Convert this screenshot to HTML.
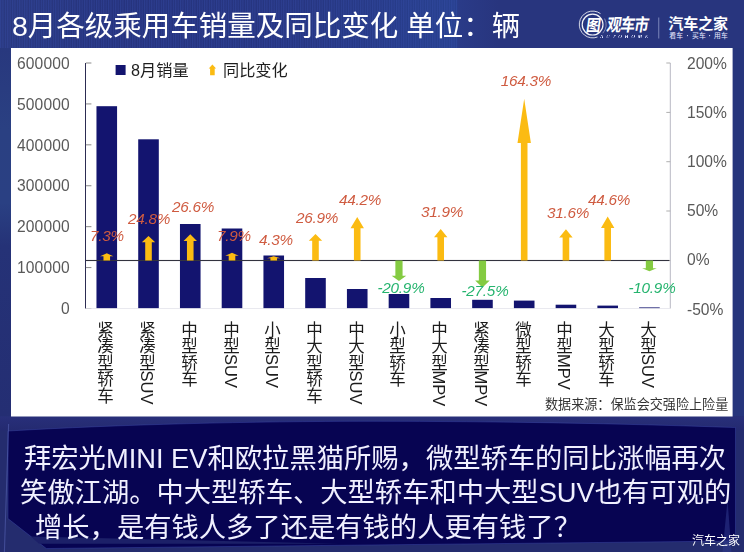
<!DOCTYPE html>
<html lang="zh-CN">
<head>
<meta charset="utf-8">
<title>8月各级乘用车销量及同比变化</title>
<style>
html,body{margin:0;padding:0;}
body{width:744px;height:552px;overflow:hidden;background:#26357c;font-family:"Liberation Sans","Noto Sans CJK SC",sans-serif;}
#page{position:relative;width:744px;height:552px;overflow:hidden;}
#page svg{position:absolute;left:0;top:0;}
.t{position:absolute;white-space:nowrap;line-height:1;font-family:"Liberation Sans","Noto Sans CJK SC",sans-serif;will-change:transform;}
</style>
</head>
<body>
<div id="page">
<svg width="744" height="552" viewBox="0 0 744 552">
<defs>
<linearGradient id="gTop" x1="0" x2="1" y1="0" y2="0"><stop offset="0" stop-color="#29387f"/><stop offset="0.15" stop-color="#25327c"/><stop offset="0.42" stop-color="#263580"/><stop offset="0.612" stop-color="#27408e"/><stop offset="0.617" stop-color="#2a3b88"/><stop offset="0.67" stop-color="#28357e"/><stop offset="1" stop-color="#28357e"/></linearGradient>
<linearGradient id="gLeft" x1="0" x2="0" y1="0" y2="1"><stop offset="0" stop-color="#28387e"/><stop offset="0.22" stop-color="#2a4082"/><stop offset="0.42" stop-color="#2a4083"/><stop offset="0.54" stop-color="#253277"/><stop offset="1" stop-color="#242e73"/></linearGradient>
<linearGradient id="gBand" x1="0" x2="0" y1="0" y2="1"><stop offset="0" stop-color="#282f7a"/><stop offset="1" stop-color="#242a70"/></linearGradient>
<pattern id="pin" width="2.4" height="8" patternUnits="userSpaceOnUse"><rect x="0" y="0" width="1.1" height="8" fill="#3a52b0" opacity="0.38"/></pattern>
</defs>
<rect x="0" y="0" width="744" height="552" fill="#26357c"/>
<rect x="0" y="0" width="744" height="48" fill="url(#gTop)"/>
<rect x="0" y="0" width="457" height="48" fill="url(#pin)"/>
<rect x="0" y="48" width="11" height="368" fill="url(#gLeft)"/>
<rect x="0" y="416.5" width="744" height="135.5" fill="#242c6e"/>
<rect x="0" y="416.5" width="744" height="14" fill="url(#gBand)"/>
<path d="M8,431 C120,424.5 250,421.3 372,421.3 C500,421.3 620,423.5 734.5,427.5 L735.5,427.5 L735.5,541 L46.3,548.5 L8,518.6 Z" fill="#070452" stroke="#3b47a6" stroke-opacity="0.45" stroke-width="1"/>
<polygon points="30.5,536.5 340,543.8 39,543.8" fill="#1c2068"/>
<line x1="8.6" y1="424" x2="4.4" y2="552" stroke="#5a66b8" stroke-opacity="0.55" stroke-width="1.1"/>
<polygon points="727.5,500 722.5,552 731.5,552" fill="#2f3a8c" opacity="0.55"/>
<rect x="11" y="48" width="721.6" height="368.5" fill="#fff"/>
<rect x="96.47" y="106.2" width="20.6" height="202.3" fill="#13146f"/>
<rect x="138.21" y="139.3" width="20.6" height="169.2" fill="#13146f"/>
<rect x="179.96" y="224" width="20.6" height="84.5" fill="#13146f"/>
<rect x="221.7" y="228.5" width="20.6" height="80" fill="#13146f"/>
<rect x="263.44" y="255.5" width="20.6" height="53" fill="#13146f"/>
<rect x="305.19" y="278" width="20.6" height="30.5" fill="#13146f"/>
<rect x="346.93" y="289" width="20.6" height="19.5" fill="#13146f"/>
<rect x="388.67" y="294" width="20.6" height="14.5" fill="#13146f"/>
<rect x="430.41" y="298" width="20.6" height="10.5" fill="#13146f"/>
<rect x="472.16" y="299.8" width="20.6" height="8.7" fill="#13146f"/>
<rect x="513.9" y="300.6" width="20.6" height="7.9" fill="#13146f"/>
<rect x="555.64" y="304.7" width="20.6" height="3.8" fill="#13146f"/>
<rect x="597.39" y="305.6" width="20.6" height="2.9" fill="#13146f"/>
<rect x="639.13" y="307.4" width="20.6" height="1.1" fill="#13146f"/>
<rect x="85" y="63.0" width="1" height="245.5" fill="#2c2c52"/>
<rect x="85.9" y="62.5" width="5.5" height="1" fill="#8a8a8a"/>
<rect x="85.9" y="103.42" width="5.5" height="1" fill="#8a8a8a"/>
<rect x="85.9" y="144.33" width="5.5" height="1" fill="#8a8a8a"/>
<rect x="85.9" y="185.25" width="5.5" height="1" fill="#8a8a8a"/>
<rect x="85.9" y="226.17" width="5.5" height="1" fill="#8a8a8a"/>
<rect x="85.9" y="267.08" width="5.5" height="1" fill="#8a8a8a"/>
<rect x="85.9" y="308" width="5.5" height="1" fill="#8a8a8a"/>
<rect x="669.8" y="63.0" width="1" height="245.5" fill="#b9b9c4"/>
<rect x="666.3" y="62.5" width="4" height="1" fill="#b0b0b0"/>
<rect x="666.3" y="111.9" width="4" height="1" fill="#b0b0b0"/>
<rect x="666.3" y="161.2" width="4" height="1" fill="#b0b0b0"/>
<rect x="666.3" y="210.5" width="4" height="1" fill="#b0b0b0"/>
<rect x="666.3" y="260" width="4" height="1" fill="#b0b0b0"/>
<rect x="85.9" y="308.2" width="584.4" height="0.8" fill="#e4e4ec"/>
<rect x="85.9" y="259.95" width="583.4" height="1.1" fill="#33333f"/>
<polygon points="103.47,260.5 103.47,256.31 100.07,256.31 106.77,253.31 113.47,256.31 110.07,256.31 110.07,260.5" fill="#fbbb12"/>
<polygon points="145.21,260.5 145.21,242.37 141.81,242.37 148.51,236.07 155.21,242.37 151.81,242.37 151.81,260.5" fill="#fbbb12"/>
<polygon points="186.96,260.5 186.96,241.06 183.56,241.06 190.26,234.3 196.96,241.06 193.56,241.06 193.56,260.5" fill="#fbbb12"/>
<polygon points="228.7,260.5 228.7,255.72 225.3,255.72 232,252.72 238.7,255.72 235.3,255.72 235.3,260.5" fill="#fbbb12"/>
<polygon points="270.44,260.5 270.44,258.17 267.04,258.17 273.74,256.26 280.44,258.17 277.04,258.17 277.04,260.5" fill="#fbbb12"/>
<polygon points="312.19,260.5 312.19,240.84 308.79,240.84 315.49,234 322.19,240.84 318.79,240.84 318.79,260.5" fill="#fbbb12"/>
<polygon points="353.93,260.5 353.93,228.29 350.53,228.29 357.23,216.96 363.93,228.29 360.53,228.29 360.53,260.5" fill="#fbbb12"/>
<polygon points="395.37,260.5 395.37,275.79 391.67,275.79 398.97,281.09 406.27,275.79 402.57,275.79 402.57,260.5" fill="#84cb42"/>
<polygon points="437.41,260.5 437.41,237.21 434.01,237.21 440.71,229.08 447.41,237.21 444.01,237.21 444.01,260.5" fill="#fbbb12"/>
<polygon points="478.86,260.5 478.86,280.59 475.16,280.59 482.46,287.59 489.76,280.59 486.06,280.59 486.06,260.5" fill="#84cb42"/>
<polygon points="520.9,260.5 520.9,143.08 517.5,143.08 524.2,98.66 530.9,143.08 527.5,143.08 527.5,260.5" fill="#fbbb12"/>
<polygon points="562.64,260.5 562.64,237.43 559.24,237.43 565.94,229.37 572.64,237.43 569.24,237.43 569.24,260.5" fill="#fbbb12"/>
<polygon points="604.39,260.5 604.39,228 600.99,228 607.69,216.57 614.39,228 610.99,228 610.99,260.5" fill="#fbbb12"/>
<polygon points="645.83,260.5 645.83,268.24 642.13,268.24 649.43,271.24 656.73,268.24 653.03,268.24 653.03,260.5" fill="#84cb42"/>
<rect x="115.6" y="65" width="10" height="10" fill="#13146f"/>
<polygon points="210.1,75.2 210.1,68.6 208.7,68.6 212.4,64.6 216.1,68.6 214.7,68.6 214.7,75.2" fill="#fbbb12"/>
<g id="logo" font-family="&quot;Liberation Sans&quot;,&quot;Noto Sans CJK SC&quot;,sans-serif">
<g transform="translate(606.4 31.3) skewX(-9) scale(1 1.2)"><text x="-0.42" y="0" font-size="14.6" font-weight="bold" letter-spacing="-0.855" fill="#fff">观车市</text></g>
<g transform="translate(585.6 30.6) skewX(-8) scale(1 1.1)"><text x="0" y="0" font-size="14.6" font-weight="bold" fill="#fff">图</text></g>
<circle cx="592.6" cy="24.6" r="10.4" fill="none" stroke="#fff" stroke-width="1.2" opacity="0.95"/>
<path d="M 600.5 13.6 A 13.4 13.4 0 1 0 597.5 37.0" fill="none" stroke="#fff" stroke-width="1.0" opacity="0.8"/>
<path d="M 604.6 18.6 A 13.4 13.4 0 0 1 602.8 33.2" fill="none" stroke="#fff" stroke-width="0.8" opacity="0.5"/>
<rect x="658.4" y="17.5" width="0.8" height="21" fill="#8f98c8"/>
<text x="668.35" y="29.3" font-size="15" font-weight="bold" letter-spacing="-0.1" fill="#fff">汽车之家</text>
<text x="669.3" y="38" font-size="6.8" letter-spacing="0.2" fill="#e8eaff">看车</text>
<text x="692.1" y="38" font-size="6.8" letter-spacing="0.2" fill="#e8eaff">买车</text>
<text x="714.1" y="38" font-size="6.8" letter-spacing="0.2" fill="#e8eaff">用车</text>
<circle cx="687.5" cy="35.6" r="0.6" fill="#e8eaff"/><circle cx="709.6" cy="35.6" r="0.6" fill="#e8eaff"/>
</g>
</svg>
<div class="t" style="left:11.5px;top:8px;font-size:28.5px;line-height:36px;color:#fff;">8月各级乘用车销量及同比变化 单位：辆</div>
<div class="t" style="left:131px;top:61px;font-size:16.2px;line-height:19px;color:#1e1e1e;">8月销量</div>
<div class="t" style="left:223.2px;top:61px;font-size:16.2px;line-height:19px;color:#1e1e1e;">同比变化</div>
<div class="t" style="left:96.27px;top:321.3px;font-size:16.5px;line-height:16.6px;writing-mode:vertical-rl;color:#1c1c1c;">紧凑型轿车</div>
<div class="t" style="left:138.01px;top:321.3px;font-size:16.5px;line-height:16.6px;writing-mode:vertical-rl;color:#1c1c1c;">紧凑型SUV</div>
<div class="t" style="left:179.76px;top:321.3px;font-size:16.5px;line-height:16.6px;writing-mode:vertical-rl;color:#1c1c1c;">中型轿车</div>
<div class="t" style="left:221.5px;top:321.3px;font-size:16.5px;line-height:16.6px;writing-mode:vertical-rl;color:#1c1c1c;">中型SUV</div>
<div class="t" style="left:263.24px;top:321.3px;font-size:16.5px;line-height:16.6px;writing-mode:vertical-rl;color:#1c1c1c;">小型SUV</div>
<div class="t" style="left:304.99px;top:321.3px;font-size:16.5px;line-height:16.6px;writing-mode:vertical-rl;color:#1c1c1c;">中大型轿车</div>
<div class="t" style="left:346.73px;top:321.3px;font-size:16.5px;line-height:16.6px;writing-mode:vertical-rl;color:#1c1c1c;">中大型SUV</div>
<div class="t" style="left:388.47px;top:321.3px;font-size:16.5px;line-height:16.6px;writing-mode:vertical-rl;color:#1c1c1c;">小型轿车</div>
<div class="t" style="left:430.21px;top:321.3px;font-size:16.5px;line-height:16.6px;writing-mode:vertical-rl;color:#1c1c1c;">中大型MPV</div>
<div class="t" style="left:471.96px;top:321.3px;font-size:16.5px;line-height:16.6px;writing-mode:vertical-rl;color:#1c1c1c;">紧凑型MPV</div>
<div class="t" style="left:513.7px;top:321.3px;font-size:16.5px;line-height:16.6px;writing-mode:vertical-rl;color:#1c1c1c;">微型轿车</div>
<div class="t" style="left:555.44px;top:321.3px;font-size:16.5px;line-height:16.6px;writing-mode:vertical-rl;color:#1c1c1c;">中型MPV</div>
<div class="t" style="left:597.19px;top:321.3px;font-size:16.5px;line-height:16.6px;writing-mode:vertical-rl;color:#1c1c1c;">大型轿车</div>
<div class="t" style="left:638.93px;top:321.3px;font-size:16.5px;line-height:16.6px;writing-mode:vertical-rl;color:#1c1c1c;">大型SUV</div>
<div class="t" style="left:545.3px;top:397px;font-size:13.1px;line-height:16px;color:#333;">数据来源：保监会交强险上险量</div>
<div class="t" style="left:24.3px;top:442px;font-size:27.3px;line-height:33px;color:#f0f0ff;">拜宏光MINI EV和欧拉黑猫所赐，微型轿车的同比涨幅再次</div>
<div class="t" style="left:20px;top:476px;font-size:27.3px;line-height:33px;color:#f0f0ff;">笑傲江湖。中大型轿车、大型轿车和中大型SUV也有可观的</div>
<div class="t" style="left:35.4px;top:511px;font-size:27.3px;line-height:33px;color:#f0f0ff;">增长，是有钱人多了还是有钱的人更有钱了？</div>
<div class="t" style="left:691.5px;top:534px;font-size:12px;line-height:14px;color:#fff;">汽车之家</div>
<div class="t " style="top:63.95px;font-size:15.6px;color:#595959;right:673.8px;transform:translateY(-50%);letter-spacing:0.12px;">600000</div>
<div class="t " style="top:104.75px;font-size:15.6px;color:#595959;right:673.8px;transform:translateY(-50%);letter-spacing:0.12px;">500000</div>
<div class="t " style="top:145.55px;font-size:15.6px;color:#595959;right:673.8px;transform:translateY(-50%);letter-spacing:0.12px;">400000</div>
<div class="t " style="top:186.35px;font-size:15.6px;color:#595959;right:673.8px;transform:translateY(-50%);letter-spacing:0.12px;">300000</div>
<div class="t " style="top:227.15px;font-size:15.6px;color:#595959;right:673.8px;transform:translateY(-50%);letter-spacing:0.12px;">200000</div>
<div class="t " style="top:267.95px;font-size:15.6px;color:#595959;right:673.8px;transform:translateY(-50%);letter-spacing:0.12px;">100000</div>
<div class="t " style="top:308.75px;font-size:15.6px;color:#595959;right:673.8px;transform:translateY(-50%);letter-spacing:0.12px;">0</div>
<div class="t " style="top:64px;font-size:15.6px;color:#595959;left:686.8px;transform:translateY(-50%);">200%</div>
<div class="t " style="top:113.1px;font-size:15.6px;color:#595959;left:686.8px;transform:translateY(-50%);">150%</div>
<div class="t " style="top:162.2px;font-size:15.6px;color:#595959;left:686.8px;transform:translateY(-50%);">100%</div>
<div class="t " style="top:211.3px;font-size:15.6px;color:#595959;left:686.8px;transform:translateY(-50%);">50%</div>
<div class="t " style="top:260.4px;font-size:15.6px;color:#595959;left:686.8px;transform:translateY(-50%);">0%</div>
<div class="t " style="top:309.5px;font-size:15.6px;color:#595959;left:686.8px;transform:translateY(-50%);">-50%</div>
<div class="t " style="top:236px;font-size:15.3px;color:#cf5b40;left:107.4px;transform:translate(-50%,-50%);font-style:italic;letter-spacing:-0.25px;">7.3%</div>
<div class="t " style="top:219px;font-size:15.3px;color:#cf5b40;left:149.4px;transform:translate(-50%,-50%);font-style:italic;letter-spacing:-0.25px;">24.8%</div>
<div class="t " style="top:207.3px;font-size:15.3px;color:#cf5b40;left:193.4px;transform:translate(-50%,-50%);font-style:italic;letter-spacing:-0.25px;">26.6%</div>
<div class="t " style="top:235.8px;font-size:15.3px;color:#cf5b40;left:233.9px;transform:translate(-50%,-50%);font-style:italic;letter-spacing:-0.25px;">7.9%</div>
<div class="t " style="top:239.5px;font-size:15.3px;color:#cf5b40;left:275.8px;transform:translate(-50%,-50%);font-style:italic;letter-spacing:-0.25px;">4.3%</div>
<div class="t " style="top:217.8px;font-size:15.3px;color:#cf5b40;left:317px;transform:translate(-50%,-50%);font-style:italic;letter-spacing:-0.25px;">26.9%</div>
<div class="t " style="top:200.3px;font-size:15.3px;color:#cf5b40;left:360.4px;transform:translate(-50%,-50%);font-style:italic;letter-spacing:-0.25px;">44.2%</div>
<div class="t " style="top:288.3px;font-size:15.3px;color:#25b46e;left:401.1px;transform:translate(-50%,-50%);font-style:italic;letter-spacing:-0.25px;">-20.9%</div>
<div class="t " style="top:212px;font-size:15.3px;color:#cf5b40;left:442.4px;transform:translate(-50%,-50%);font-style:italic;letter-spacing:-0.25px;">31.9%</div>
<div class="t " style="top:290.8px;font-size:15.3px;color:#25b46e;left:485.1px;transform:translate(-50%,-50%);font-style:italic;letter-spacing:-0.25px;">-27.5%</div>
<div class="t " style="top:81.3px;font-size:15.3px;color:#cf5b40;left:526.1px;transform:translate(-50%,-50%);font-style:italic;letter-spacing:-0.25px;">164.3%</div>
<div class="t " style="top:213.3px;font-size:15.3px;color:#cf5b40;left:567.9px;transform:translate(-50%,-50%);font-style:italic;letter-spacing:-0.25px;">31.6%</div>
<div class="t " style="top:199.8px;font-size:15.3px;color:#cf5b40;left:609.1px;transform:translate(-50%,-50%);font-style:italic;letter-spacing:-0.25px;">44.6%</div>
<div class="t " style="top:287.9px;font-size:15.3px;color:#25b46e;left:651.6px;transform:translate(-50%,-50%);font-style:italic;letter-spacing:-0.25px;">-10.9%</div>
<div class="t" style="left:600.4px;top:34.4px;font-family:'Liberation Serif',serif;font-style:italic;font-weight:bold;font-size:20px;letter-spacing:11.1px;color:#dfe3ff;transform:scale(0.25);transform-origin:0 0;">AUTOHOME</div>
</div>
</body>
</html>
